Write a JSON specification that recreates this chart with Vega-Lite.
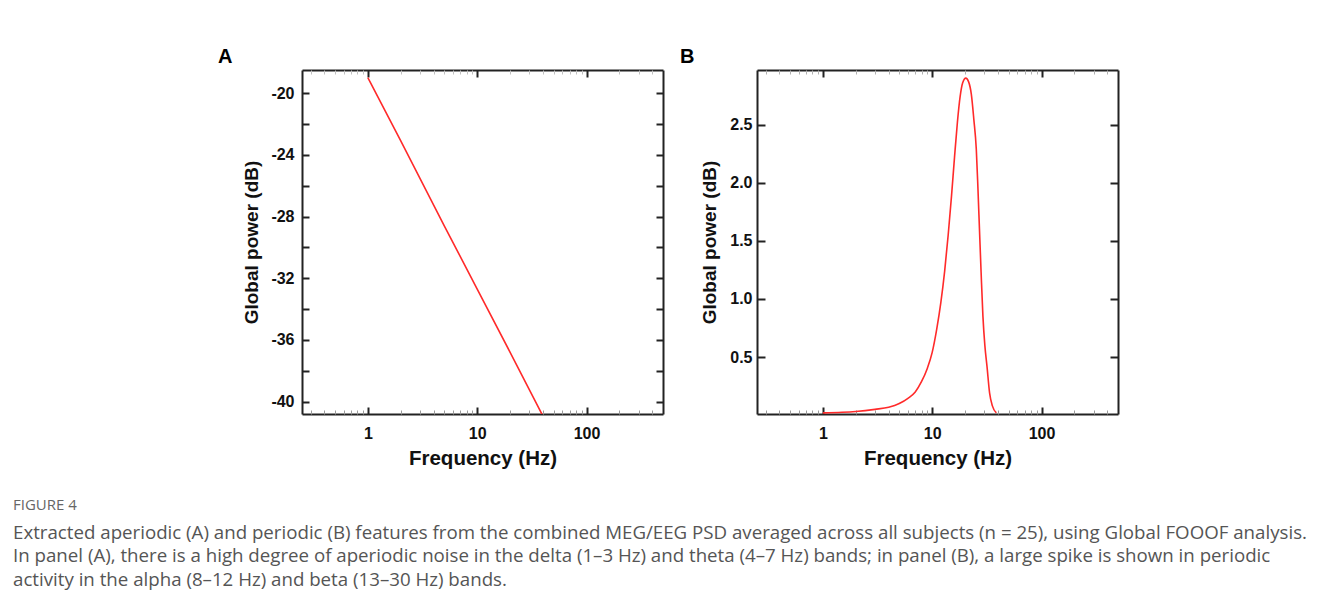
{
  "$schema": "https://vega.github.io/schema/vega-lite/v6.json",
  "background": "white",
  "padding": {"left": 13, "top": 47, "right": 5, "bottom": 5},
  "spacing": 16,
  "title": {
    "text": "FIGURE 4",
    "subtitle": [
      "Extracted aperiodic (A) and periodic (B) features from the combined MEG/EEG PSD averaged across all subjects (n = 25), using Global FOOOF analysis.",
      "In panel (A), there is a high degree of aperiodic noise in the delta (1–3 Hz) and theta (4–7 Hz) bands; in panel (B), a large spike is shown in periodic",
      "activity in the alpha (8–12 Hz) and beta (13–30 Hz) bands."
    ],
    "orient": "bottom",
    "anchor": "start",
    "frame": "bounds",
    "dx": -205,
    "offset": 29,
    "font": "Open Sans",
    "fontSize": 15,
    "fontWeight": "normal",
    "color": "#666666",
    "subtitleFont": "Open Sans",
    "subtitleFontSize": 18.7,
    "subtitleColor": "#555555",
    "subtitleLineHeight": 23.5,
    "subtitlePadding": 11
  },
  "config": {
    "view": {"stroke": null},
    "axis": {
      "minExtent": 0,
      "labelFont": "Liberation Sans",
      "labelFontWeight": "bold",
      "labelFontSize": 16,
      "labelColor": "#111111",
      "titleFont": "Liberation Sans",
      "titleFontWeight": "bold",
      "titleColor": "#111111",
      "grid": false,
      "domainColor": "#222222",
      "domainWidth": 2,
      "tickColor": "#222222",
      "tickWidth": 2,
      "labelFlush": false,
      "labelOverlap": false
    },
    "axisX": {"titleFontSize": 20.5},
    "axisY": {"titleFontSize": 19}
  },
  "hconcat": [
    {
      "width": 361,
      "height": 344,
      "title": {"text": "A", "anchor": "start", "frame": "group", "dx": -84, "offset": -14, "baseline": "alphabetic", "font": "Liberation Sans", "fontSize": 20, "fontWeight": "bold", "color": "#000000"},
      "data": {"values": [
        {"freq": 1, "power": -19.0},
        {"freq": 2, "power": -23.1},
        {"freq": 5, "power": -28.6},
        {"freq": 10, "power": -32.7},
        {"freq": 20, "power": -36.8},
        {"freq": 40, "power": -40.95}
      ]},
      "layer": [
        {
          "mark": {"type": "line", "color": "#ff2a2a", "strokeWidth": 1.6, "clip": true},
          "encoding": {
            "x": {"field": "freq", "type": "quantitative", "scale": {"type": "log", "domain": [0.25, 500], "nice": false},
              "axis": {"orient": "bottom", "values": [1, 10, 100], "format": "d", "tickSize": -7, "labelPadding": 18, "title": "Frequency (Hz)", "titlePadding": 7}},
            "y": {"field": "power", "type": "quantitative", "scale": {"domain": [-40.8, -18.5], "nice": false, "zero": false},
              "axis": {"orient": "left", "values": [-40, -38, -36, -34, -32, -30, -28, -26, -24, -22, -20], "labelExpr": "datum.value % 4 == 0 ? '' + datum.value : ''", "tickSize": -7, "labelPadding": 15, "title": "Global power (dB)", "titlePadding": 9}}
          }
        },
        {
          "mark": {"type": "line", "opacity": 0, "clip": true},
          "encoding": {
            "x": {"field": "freq", "type": "quantitative", "scale": {"type": "log", "domain": [0.25, 500], "nice": false},
              "axis": {"orient": "top", "values": [1, 10, 100], "labels": false, "tickSize": -7, "title": null}},
            "y": {"field": "power", "type": "quantitative", "scale": {"domain": [-40.8, -18.5], "nice": false, "zero": false},
              "axis": {"orient": "right", "values": [-40, -38, -36, -34, -32, -30, -28, -26, -24, -22, -20], "labels": false, "tickSize": -7, "title": null}}
          }
        },
        {
          "mark": {"type": "line", "opacity": 0, "clip": true},
          "encoding": {
            "x": {"field": "freq", "type": "quantitative", "scale": {"type": "log", "domain": [0.25, 500], "nice": false},
              "axis": {"orient": "bottom", "values": [0.3, 0.4, 0.5, 0.6, 0.7, 0.8, 0.9, 2, 3, 4, 5, 6, 7, 8, 9, 20, 30, 40, 50, 60, 70, 80, 90, 200, 300, 400, 500], "labels": false, "domain": false, "tickSize": -4, "tickWidth": 1, "tickColor": "#9a9a9a", "title": null}},
            "y": {"field": "power", "type": "quantitative", "scale": {"domain": [-40.8, -18.5], "nice": false, "zero": false}, "axis": null}
          }
        },
        {
          "mark": {"type": "line", "opacity": 0, "clip": true},
          "encoding": {
            "x": {"field": "freq", "type": "quantitative", "scale": {"type": "log", "domain": [0.25, 500], "nice": false},
              "axis": {"orient": "top", "values": [0.3, 0.4, 0.5, 0.6, 0.7, 0.8, 0.9, 2, 3, 4, 5, 6, 7, 8, 9, 20, 30, 40, 50, 60, 70, 80, 90, 200, 300, 400, 500], "labels": false, "domain": false, "tickSize": -4, "tickWidth": 1, "tickColor": "#c0c0c0", "title": null}},
            "y": {"field": "power", "type": "quantitative", "scale": {"domain": [-40.8, -18.5], "nice": false, "zero": false}, "axis": null}
          }
        }
      ],
      "resolve": {"axis": {"x": "independent", "y": "independent"}}
    },
    {
      "width": 361,
      "height": 344,
      "title": {"text": "B", "anchor": "start", "frame": "group", "dx": -77, "offset": -14, "baseline": "alphabetic", "font": "Liberation Sans", "fontSize": 20, "fontWeight": "bold", "color": "#000000"},
      "data": {"values": [
        {"freq": 1.0, "power": 0.02},
        {"freq": 1.5, "power": 0.025},
        {"freq": 2.0, "power": 0.032},
        {"freq": 3.0, "power": 0.05},
        {"freq": 4.0, "power": 0.068},
        {"freq": 5.0, "power": 0.1},
        {"freq": 6.0, "power": 0.145},
        {"freq": 7.0, "power": 0.2},
        {"freq": 8.0, "power": 0.29},
        {"freq": 9.0, "power": 0.4},
        {"freq": 10.0, "power": 0.54},
        {"freq": 11.0, "power": 0.74},
        {"freq": 12.0, "power": 0.97},
        {"freq": 13.0, "power": 1.24},
        {"freq": 14.0, "power": 1.55},
        {"freq": 15.0, "power": 1.88},
        {"freq": 16.0, "power": 2.22},
        {"freq": 17.0, "power": 2.52},
        {"freq": 18.0, "power": 2.74},
        {"freq": 19.0, "power": 2.86},
        {"freq": 20.3, "power": 2.9},
        {"freq": 21.5, "power": 2.87},
        {"freq": 22.8, "power": 2.76},
        {"freq": 24.0, "power": 2.55},
        {"freq": 25.3, "power": 2.29},
        {"freq": 26.2, "power": 1.95},
        {"freq": 27.1, "power": 1.58},
        {"freq": 28.0, "power": 1.23},
        {"freq": 29.1, "power": 0.85},
        {"freq": 30.3, "power": 0.6},
        {"freq": 31.7, "power": 0.42},
        {"freq": 33.5, "power": 0.19},
        {"freq": 35.5, "power": 0.08},
        {"freq": 38.6, "power": 0.02}
      ]},
      "layer": [
        {
          "mark": {"type": "line", "color": "#ff2a2a", "strokeWidth": 1.6, "clip": true, "interpolate": "monotone"},
          "encoding": {
            "x": {"field": "freq", "type": "quantitative", "scale": {"type": "log", "domain": [0.25, 500], "nice": false},
              "axis": {"orient": "bottom", "values": [1, 10, 100], "format": "d", "tickSize": -7, "labelPadding": 18, "title": "Frequency (Hz)", "titlePadding": 7}},
            "y": {"field": "power", "type": "quantitative", "scale": {"domain": [0.01, 2.97], "nice": false, "zero": false},
              "axis": {"orient": "left", "values": [0.5, 1, 1.5, 2, 2.5], "format": ".1f", "tickSize": -8, "labelPadding": 13, "title": "Global power (dB)", "titlePadding": 10}}
          }
        },
        {
          "mark": {"type": "line", "opacity": 0, "clip": true},
          "encoding": {
            "x": {"field": "freq", "type": "quantitative", "scale": {"type": "log", "domain": [0.25, 500], "nice": false},
              "axis": {"orient": "top", "values": [1, 10, 100], "labels": false, "tickSize": -7, "title": null}},
            "y": {"field": "power", "type": "quantitative", "scale": {"domain": [0.01, 2.97], "nice": false, "zero": false},
              "axis": {"orient": "right", "values": [0.5, 1, 1.5, 2, 2.5], "labels": false, "tickSize": -8, "title": null}}
          }
        },
        {
          "mark": {"type": "line", "opacity": 0, "clip": true},
          "encoding": {
            "x": {"field": "freq", "type": "quantitative", "scale": {"type": "log", "domain": [0.25, 500], "nice": false},
              "axis": {"orient": "bottom", "values": [0.3, 0.4, 0.5, 0.6, 0.7, 0.8, 0.9, 2, 3, 4, 5, 6, 7, 8, 9, 20, 30, 40, 50, 60, 70, 80, 90, 200, 300, 400, 500], "labels": false, "domain": false, "tickSize": -4, "tickWidth": 1, "tickColor": "#9a9a9a", "title": null}},
            "y": {"field": "power", "type": "quantitative", "scale": {"domain": [0.01, 2.97], "nice": false, "zero": false}, "axis": null}
          }
        },
        {
          "mark": {"type": "line", "opacity": 0, "clip": true},
          "encoding": {
            "x": {"field": "freq", "type": "quantitative", "scale": {"type": "log", "domain": [0.25, 500], "nice": false},
              "axis": {"orient": "top", "values": [0.3, 0.4, 0.5, 0.6, 0.7, 0.8, 0.9, 2, 3, 4, 5, 6, 7, 8, 9, 20, 30, 40, 50, 60, 70, 80, 90, 200, 300, 400, 500], "labels": false, "domain": false, "tickSize": -4, "tickWidth": 1, "tickColor": "#b0b0b0", "title": null}},
            "y": {"field": "power", "type": "quantitative", "scale": {"domain": [0.01, 2.97], "nice": false, "zero": false}, "axis": null}
          }
        }
      ],
      "resolve": {"axis": {"x": "independent", "y": "independent"}}
    }
  ]
}
